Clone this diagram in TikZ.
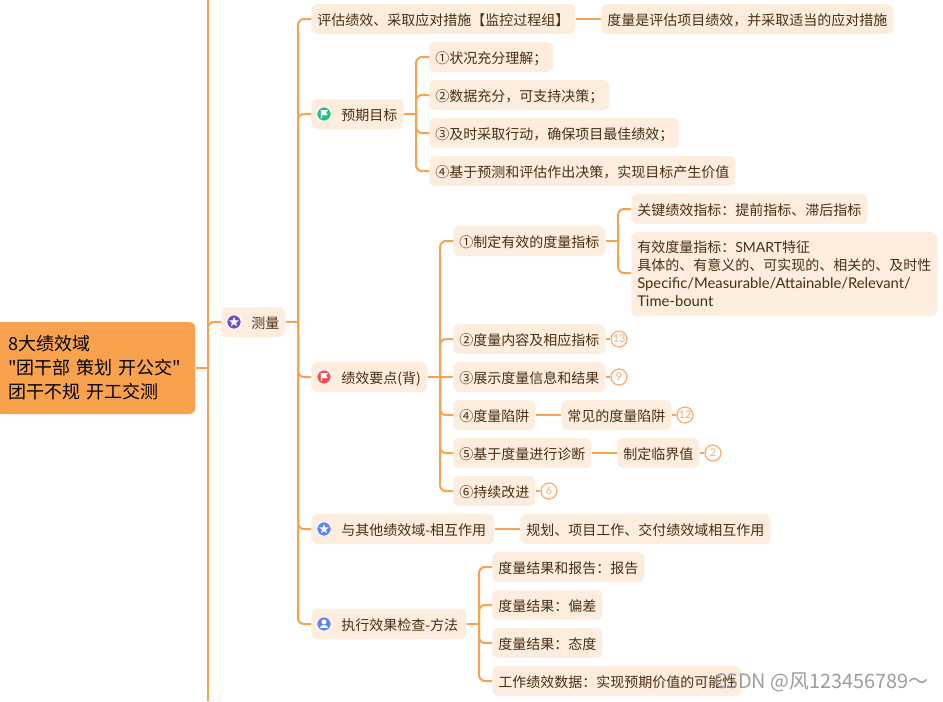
\documentclass[tikz,border=0pt]{standalone}
\usepackage{fontspec}
\setmainfont{Noto Sans CJK SC}
\newfontfamily\latinf{Lato}
\newfontfamily\plainf{Noto Sans CJK SC}
\usetikzlibrary{shapes.geometric}
\definecolor{linkc}{HTML}{F9A24E}
\definecolor{boxc}{HTML}{FDEDDF}
\definecolor{textc}{HTML}{4A2E12}
\definecolor{badgec}{HTML}{FBAA66}
\definecolor{iconp}{HTML}{6A50C8}
\definecolor{icong}{HTML}{27BD8A}
\definecolor{iconr}{HTML}{F44E5A}
\definecolor{iconb}{HTML}{5F7FF8}
\newcommand{\mapnode}[6][]{%
  \pgfmathsetmacro{\mtw}{(#4-#3-12)*0.75}%
  \node[mapbox,text width=\mtw pt,#1] (#2) at (#3,#5) {#6};}
\newcommand{\branch}[3]{% parent, trunk, child
  \draw[linkline] (#1.east) -- (#1.east -| #2);
  \draw[linkline,rounded corners=4.5pt] (#1.east -| #2) -- (#3.west -| #2) -- (#3.west);}
\newcommand{\badge}[4]{% name, x, y, text
  \node[badgenode] (#1) at (#2,#3) {#4};}
\newcommand{\iconbase}[2]{\fill[#1,draw=white,line width=0.75pt] (0,0) circle [radius=5.4pt];}
\newcommand{\staricon}[3]{\begin{scope}[shift={(#1,#2)}]\iconbase{#3}{}
  \node[star,star points=5,star point ratio=2.3,fill=white,inner sep=0pt,minimum size=7.5pt] at (0,0) {};\end{scope}}
\newcommand{\flagicon}[3]{\begin{scope}[shift={(#1,#2)}]\iconbase{#3}{}
  \fill[white] (-3.2,-3.8) -- (3.8,-3.8) -- (2,-1.4) -- (3.8,1) -- (-1.8,1) -- (-1.8,4.2) -- (-3.2,4.2) -- cycle;\end{scope}}
\newcommand{\personicon}[3]{\begin{scope}[shift={(#1,#2)}]\iconbase{#3}{}
  \fill[white] (0,-2) circle [radius=1.9pt];
  \fill[white] (-4.2,4.2) .. controls (-4.2,0.2) and (4.2,0.2) .. (4.2,4.2) -- cycle;\end{scope}}
\newcommand{\latinline}[1]{{\latinf\fontsize{11.1pt}{13.5pt}\selectfont #1}}
\tikzset{
  mapbox/.style={anchor=west,fill=boxc,rounded corners=4.5pt,inner xsep=4.5pt,inner ysep=0pt,
    minimum height=22.5pt,align=left,text=textc,font=\fontsize{10.5pt}{13.5pt}\selectfont,
    text height=11pt,text depth=1.5pt},
  linkline/.style={draw=linkc,line width=1.5pt},
  badgenode/.style={circle,draw=badgec,fill=white,line width=0.9pt,inner sep=0pt,minimum size=12pt,
    text=badgec,font=\latinf\fontsize{8pt}{9pt}\selectfont},
  rootbox/.style={anchor=west,fill=linkc,rounded corners=4.5pt,inner xsep=6pt,inner ysep=0pt,
    text width=134.25pt,minimum height=69pt,align=left,text=black,font=\plainf\fontsize{13.5pt}{18pt}\selectfont},
}
\begin{document}
\begin{tikzpicture}[x=0.75pt,y=-0.75pt]
\useasboundingbox (0,0) rectangle (943,701);
\clip (0,0) rectangle (943,701);
\fill[white] (0,0) rectangle (943,701);
% trunks
\coordinate (t0) at (208,0);
\coordinate (b0) at (208,701);
\coordinate (t1) at (298,0);
\coordinate (t2) at (416,0);
\coordinate (t3) at (440,0);
\coordinate (t4) at (618,0);
\coordinate (t5) at (479,0);
% nodes
\fill[linkc] (0,322) rectangle (20,414);
\node[rootbox] (root) at (0,368) {8大绩效域\\"团干部 策划 开公交"\\团干不规 开工交测};
\mapnode{ce}{221}{285}{322}{\hspace*{18pt}测量}
\mapnode{pg}{311}{575}{19}{评估绩效、采取应对措施【监控过程组】}
\mapnode{pgd}{601}{893}{19}{度量是评估项目绩效，并采取适当的应对措施}
\mapnode{yq}{311}{403}{114}{\hspace*{18pt}预期目标}
\mapnode{yqa}{429}{553}{57}{①状况充分理解；}
\mapnode{yqb}{429}{609}{95}{②数据充分，可支持决策；}
\mapnode{yqc}{429}{679}{133}{③及时采取行动，确保项目最佳绩效；}
\mapnode{yqd}{429}{735}{171}{④基于预测和评估作出决策，实现目标产生价值}
\mapnode{jx}{311}{427}{377}{\hspace*{18pt}绩效要点(背)}
\mapnode{ja}{453}{605}{241}{①制定有效的度量指标}
\mapnode{jaa}{631}{867}{209}{关键绩效指标：提前指标、滞后指标}
\mapnode[minimum height=63pt,text height=,text depth=]{jab}{631}{937}{274}{有效度量指标：{\latinf SMART}特征\\具体的、有意义的、可实现的、相关的、及时性\\\latinline{Specific/Measurable/Attainable/Relevant/}\\\latinline{Time-bount}}
\mapnode{jb}{453}{605}{339}{②度量内容及相应指标}
\mapnode{jc}{453}{605}{377}{③展示度量信息和结果}
\mapnode{jd}{453}{535}{415}{④度量陷阱}
\mapnode{jda}{561}{671}{415}{常见的度量陷阱}
\mapnode{je}{453}{591}{453}{⑤基于度量进行诊断}
\mapnode{jea}{617}{699}{453}{制定临界值}
\mapnode{jf}{453}{535}{491}{⑥持续改进}
\mapnode{yt}{311}{494}{529}{\hspace*{18pt}与其他绩效域-相互作用}
\mapnode{yta}{520}{770}{529}{规划、项目工作、交付绩效域相互作用}
\mapnode{zx}{311}{466}{624}{\hspace*{18pt}执行效果检查-方法}
\mapnode{zxa}{492}{644}{567}{度量结果和报告：报告}
\mapnode{zxb}{492}{602}{605}{度量结果：偏差}
\mapnode{zxc}{492}{602}{643}{度量结果：态度}
\mapnode{zxd}{492}{741}{681}{工作绩效数据：实现预期价值的可能性}
\badge{bb}{619}{339}{13}
\badge{bc}{619}{377}{9}
\badge{bd}{685}{415}{12}
\badge{be}{713}{453}{2}
\badge{bf}{549}{491}{6}
\coordinate (jabin) at (631,273);
% connectors
\draw[linkline] (t0) -- (b0);
\draw[linkline] (root.east) -- (root.east -| t0);
\draw[linkline,rounded corners=4.5pt] (root.east -| t0) -- (ce.west -| t0) -- (ce.west);
\branch{ce}{t1}{pg}
\branch{ce}{t1}{yq}
\branch{ce}{t1}{jx}
\branch{ce}{t1}{yt}
\branch{ce}{t1}{zx}
\draw[linkline] (pg.east) -- (pgd.west);
\branch{yq}{t2}{yqa}
\branch{yq}{t2}{yqb}
\branch{yq}{t2}{yqc}
\branch{yq}{t2}{yqd}
\branch{jx}{t3}{ja}
\branch{jx}{t3}{jb}
\draw[linkline] (jx.east) -- (jc.west);
\branch{jx}{t3}{jd}
\branch{jx}{t3}{je}
\branch{jx}{t3}{jf}
\branch{ja}{t4}{jaa}
\draw[linkline,rounded corners=4.5pt] (ja.east -| t4) -- (jabin -| t4) -- (jabin);
\draw[linkline] (jb.east) -- (bb.west);
\draw[linkline] (jc.east) -- (bc.west);
\draw[linkline] (jd.east) -- (jda.west);
\draw[linkline] (jda.east) -- (bd.west);
\draw[linkline] (je.east) -- (jea.west);
\draw[linkline] (jea.east) -- (be.west);
\draw[linkline] (jf.east) -- (bf.west);
\draw[linkline] (yt.east) -- (yta.west);
\branch{zx}{t5}{zxa}
\branch{zx}{t5}{zxb}
\branch{zx}{t5}{zxc}
\branch{zx}{t5}{zxd}
% icons
\staricon{234}{322}{iconp}
\flagicon{324}{114}{icong}
\flagicon{324}{377}{iconr}
\staricon{324}{529}{iconb}
\personicon{324}{624}{iconb}
% watermark
\node[anchor=west,text=black!45,opacity=0.85,inner sep=0pt,font=\fontsize{14.9pt}{16pt}\selectfont] (wm) at (714,682) {CSDN @风123456789～};
\end{tikzpicture}
\end{document}
